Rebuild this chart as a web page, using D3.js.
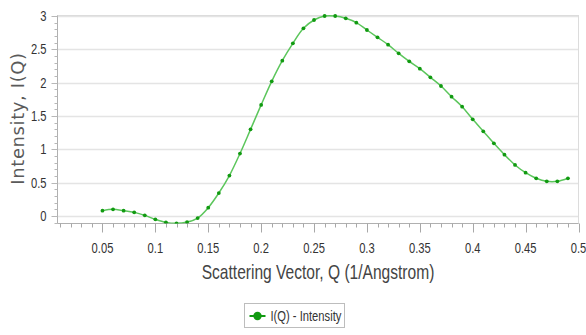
<!DOCTYPE html>
<html>
<head>
<meta charset="utf-8">
<script src="https://cdn.jsdelivr.net/npm/d3@7"></script>
<style>
  html, body { margin: 0; padding: 0; background: #fff; }
  svg { display: block; }
</style>
</head>
<body>
<div id="chart"></div>
<script>
// Scattering vector Q (1/Angstrom)
const qValues = [0.05, 0.06, 0.07, 0.08, 0.09, 0.10, 0.11, 0.12, 0.13, 0.14,
                 0.15, 0.16, 0.17, 0.18, 0.19, 0.20, 0.21, 0.22, 0.23, 0.24,
                 0.25, 0.26, 0.27, 0.28, 0.29, 0.30, 0.31, 0.32, 0.33, 0.34,
                 0.35, 0.36, 0.37, 0.38, 0.39, 0.40, 0.41, 0.42, 0.43, 0.44,
                 0.45, 0.46, 0.47, 0.48, 0.49];
// Intensity I(Q)
const intensity = [0.08, 0.10, 0.08, 0.055, 0.01, -0.05, -0.095, -0.11, -0.09, -0.03,
                   0.125, 0.345, 0.607, 0.937, 1.30, 1.667, 2.02, 2.33, 2.59, 2.815,
                   2.94, 3.0, 3.0, 2.965, 2.90, 2.79, 2.68, 2.57, 2.44, 2.32,
                   2.21, 2.08, 1.95, 1.79, 1.64, 1.45, 1.27, 1.09, 0.92, 0.766,
                   0.65, 0.566, 0.52, 0.52, 0.566];
const xTicks = [0.05, 0.1, 0.15, 0.2, 0.25, 0.3, 0.35, 0.4, 0.45, 0.5];
const yTicks = [0, 0.5, 1, 1.5, 2, 2.5, 3];
const seriesName = "I(Q) - Intensity";

const width = 586, height = 335;
const plot = { left: 57.5, right: 578.5, top: 15.5, bottom: 223.5 };
const narrowFont = "'Liberation Sans', Arial, sans-serif";
const squeeze = 0.8; // the original uses a condensed face

const x = d3.scaleLinear().domain([0.0075, 0.5]).range([plot.left, plot.right]);
const y = d3.scaleLinear().domain([-0.112, 3.0]).range([plot.bottom, plot.top + 0.5]);

const svg = d3.select("#chart").append("svg")
  .attr("width", width)
  .attr("height", height);

// horizontal gridlines
svg.append("g").selectAll("line").data(yTicks).join("line")
  .attr("x1", plot.left).attr("x2", plot.right)
  .attr("y1", d => Math.round(y(d)) + 0.5).attr("y2", d => Math.round(y(d)) + 0.5)
  .attr("stroke", "#e4e4e4").attr("stroke-width", 1.5);

// plot frame
svg.append("rect")
  .attr("x", plot.left).attr("y", plot.top)
  .attr("width", plot.right - plot.left).attr("height", plot.bottom - plot.top)
  .attr("fill", "none").attr("stroke", "#dcdcdc");

// x axis
const xMinor = d3.range(1, 51).map(i => i / 100).filter(v => v >= x.domain()[0]);
const xAxis = svg.append("g").attr("transform", `translate(0,${plot.bottom})`);
xAxis.append("line").attr("x1", plot.left).attr("x2", plot.right)
  .attr("stroke", "#b0b0b0");
xAxis.selectAll(".minor").data(xMinor).join("line")
  .attr("class", "minor")
  .attr("x1", d => Math.round(x(d)) + 0.5).attr("x2", d => Math.round(x(d)) + 0.5)
  .attr("y1", 0).attr("y2", d => (Math.round(d * 100) % 5 === 0) ? 9 : 4)
  .attr("stroke", "#a8a8a8");
xAxis.selectAll("text").data(xTicks).join("text")
  .attr("transform", d => `translate(${x(d)},29) scale(${squeeze},1)`)
  .attr("text-anchor", "middle")
  .attr("font-family", narrowFont).attr("font-size", 14)
  .attr("fill", "#333")
  .text(d => d);

// y axis
const yMinor = d3.range(-1, 31).map(i => i / 10).filter(v => v >= y.domain()[0]);
const yAxis = svg.append("g").attr("transform", `translate(${plot.left},0)`);
yAxis.append("line").attr("y1", plot.top).attr("y2", plot.bottom)
  .attr("stroke", "#b0b0b0");
yAxis.selectAll(".minor").data(yMinor).join("line")
  .attr("class", "minor")
  .attr("y1", d => Math.round(y(d)) + 0.5).attr("y2", d => Math.round(y(d)) + 0.5)
  .attr("x1", 0).attr("x2", d => (Math.round(d * 10) % 5 === 0) ? -6 : -3)
  .attr("stroke", "#b8b8b8");
yAxis.selectAll("text").data(yTicks).join("text")
  .attr("transform", d => `translate(-11,${y(d)}) scale(${squeeze},1)`)
  .attr("dy", "0.35em")
  .attr("text-anchor", "end")
  .attr("font-family", narrowFont).attr("font-size", 14)
  .attr("fill", "#333")
  .text(d => d);

// axis titles
svg.append("text")
  .attr("transform", `translate(${(plot.left + plot.right) / 2},279) scale(0.76,1)`)
  .attr("text-anchor", "middle")
  .attr("font-family", narrowFont).attr("font-size", 20.5)
  .attr("fill", "#444")
  .text("Scattering Vector, Q (1/Angstrom)");

svg.append("text")
  .attr("transform", `translate(24,${(plot.top + plot.bottom) / 2 - 1}) rotate(-90)`)
  .attr("text-anchor", "middle")
  .attr("font-family", "'DejaVu Sans', Verdana, sans-serif").attr("font-size", 18)
  .attr("letter-spacing", 0.6)
  .attr("fill", "#5a5a5a")
  .text("Intensity, I(Q)");

// series
const data = qValues.map((q, i) => ({ q, v: intensity[i] }));
const line = d3.line().x(d => x(d.q)).y(d => y(d.v)).curve(d3.curveCatmullRom.alpha(0.5));

svg.append("clipPath").attr("id", "plot-clip")
  .append("rect")
  .attr("x", plot.left).attr("y", plot.top - 3)
  .attr("width", plot.right - plot.left).attr("height", plot.bottom - plot.top + 3);

const series = svg.append("g").attr("clip-path", "url(#plot-clip)");
series.append("path")
  .datum(data)
  .attr("d", line)
  .attr("fill", "none")
  .attr("stroke", "#5cc65c")
  .attr("stroke-width", 1.5);
series.selectAll("circle").data(data).join("circle")
  .attr("cx", d => x(d.q)).attr("cy", d => y(d.v))
  .attr("r", 1.9)
  .attr("fill", "#119a11");

// legend
const legend = svg.append("g").attr("transform", "translate(244.5,303.5)");
legend.append("rect")
  .attr("width", 100).attr("height", 24)
  .attr("fill", "#fff").attr("stroke", "#bdbdbd");
legend.append("line")
  .attr("x1", 5).attr("x2", 21).attr("y1", 12.5).attr("y2", 12.5)
  .attr("stroke", "#119a11").attr("stroke-width", 2);
legend.append("circle")
  .attr("cx", 13).attr("cy", 12.5).attr("r", 4.2)
  .attr("fill", "#119a11");
legend.append("text")
  .attr("transform", `translate(26,12.5) scale(${squeeze},1)`)
  .attr("dy", "0.35em")
  .attr("font-family", narrowFont).attr("font-size", 14)
  .attr("fill", "#333")
  .text(seriesName);
</script>
</body>
</html>
